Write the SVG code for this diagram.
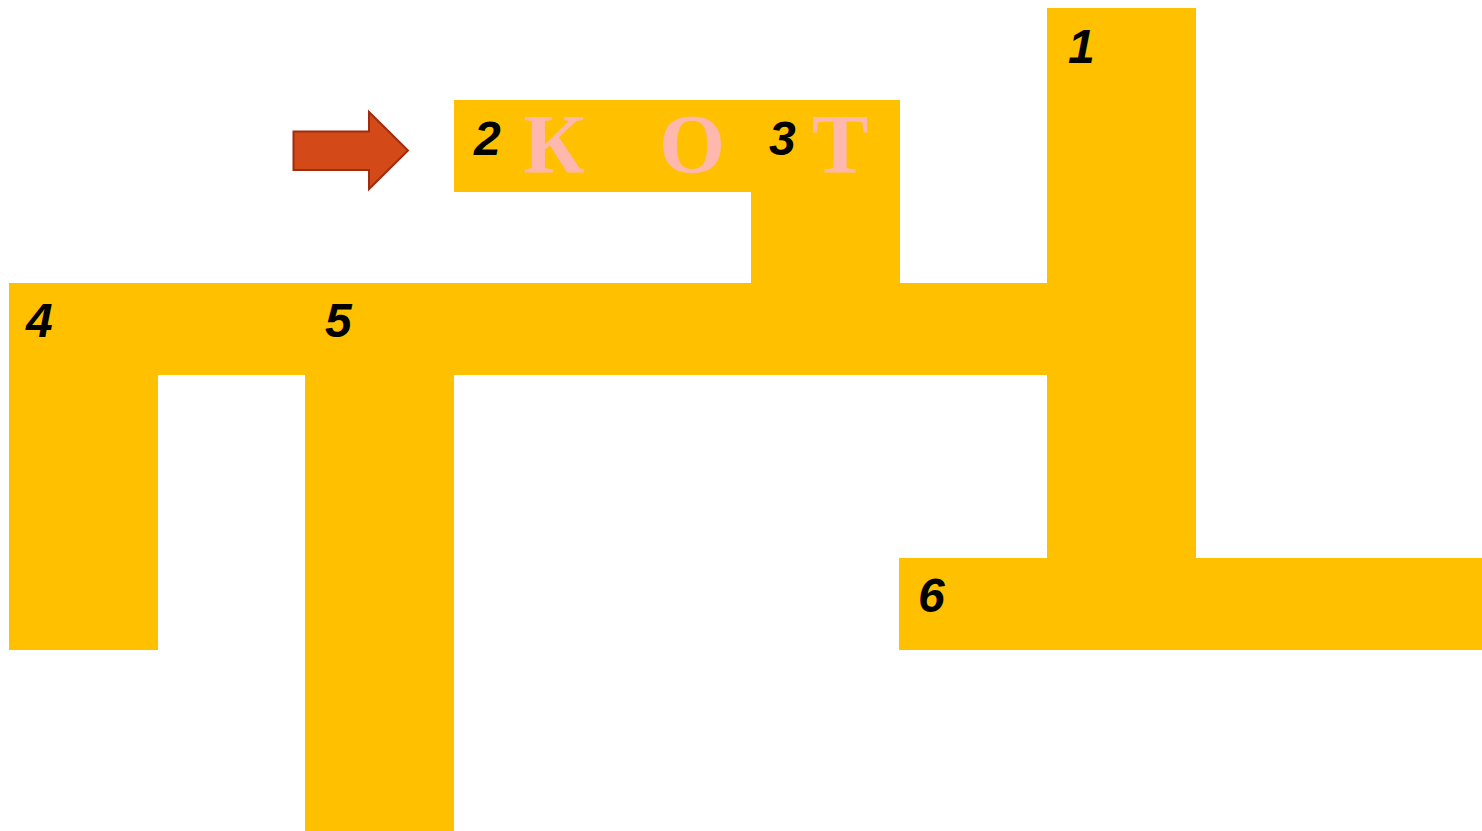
<svg xmlns="http://www.w3.org/2000/svg" width="1482" height="831" viewBox="0 0 1482 831">
<style>
.cell{fill:#FFC000}
.num{font-family:"Liberation Sans",Arial,sans-serif;font-weight:bold;font-style:italic;font-size:48px;fill:#000}
.let{font-family:"Liberation Serif","Times New Roman",serif;font-weight:bold;font-size:85px;fill:#FFB8AE;text-anchor:middle}
</style>
<rect width="1482" height="831" fill="#fff"/>
<g id="word1"><rect class="cell" x="1047" y="8" width="149" height="642"/></g>
<g id="word2"><rect class="cell" x="454" y="100" width="446" height="92"/></g>
<g id="word3"><rect class="cell" x="751" y="100" width="149" height="275"/></g>
<g id="word4h"><rect class="cell" x="9" y="283" width="1187" height="92"/></g>
<g id="word4v"><rect class="cell" x="9" y="283" width="149" height="367"/></g>
<g id="word5"><rect class="cell" x="305" y="283" width="149" height="548"/></g>
<g id="word6"><rect class="cell" x="899" y="558" width="583" height="92"/></g>
<g id="labels">
<text class="num" x="1068" y="63">1</text>
<text class="num" x="474" y="155">2</text>
<text class="num" x="769" y="155">3</text>
<text class="num" x="26" y="337">4</text>
<text class="num" x="325" y="337">5</text>
<text class="num" x="918" y="612">6</text>
<text class="let" x="554" y="173">К</text>
<text class="let" x="692" y="173">О</text>
<text class="let" x="840" y="173">Т</text>
</g>
<g id="connectors">
<polygon points="293.5,131.5 369,131.5 369,112 408,150.5 369,189 369,170 293.5,170" fill="#D34A18" stroke="#A02C10" stroke-width="2" stroke-linejoin="miter"/>
</g>
</svg>
